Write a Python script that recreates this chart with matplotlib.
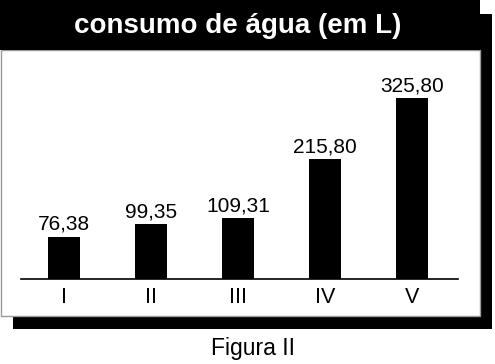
import matplotlib
matplotlib.use("Agg")
import matplotlib.pyplot as plt
from matplotlib.patches import Rectangle

categories = ["I", "II", "III", "IV", "V"]
values = [76.38, 99.35, 109.31, 215.80, 325.80]
value_labels = ["76,38", "99,35", "109,31", "215,80", "325,80"]
title = "consumo de água (em L)"
caption = "Figura II"

plt.rcParams['font.family'] = ['Liberation Sans', 'DejaVu Sans']

W, H = 495, 364
fig = plt.figure(figsize=(W / 100, H / 100), dpi=100)
fig.patch.set_facecolor("white")

def px_rect(x0, y0, x1, y1, **kw):
    # pixel coords measured from top-left
    r = Rectangle((x0 / W, 1 - y1 / H), (x1 - x0) / W, (y1 - y0) / H,
                  transform=fig.transFigure, **kw)
    fig.add_artist(r)
    return r

# shadow
px_rect(13, 14, 492, 329, facecolor="black", edgecolor="none", zorder=0)
# white box
px_rect(0.5, 50, 480, 316, facecolor="white", edgecolor="#999999", linewidth=1.0, zorder=1)
# title bar
px_rect(0, 0, 480, 50, facecolor="black", edgecolor="none", zorder=2)
fig.text(238 / W, 1 - 26 / H, title, color="white", fontsize=20, fontweight="bold",
         ha="center", va="center", zorder=3)

# axes for bars
ax_left, ax_right = 21, 458
ax_top, ax_bottom = 60, 279
ax = fig.add_axes([ax_left / W, 1 - ax_bottom / H, (ax_right - ax_left) / W, (ax_bottom - ax_top) / H])
ax.set_zorder(5)
ax.patch.set_alpha(0)
x = list(range(len(categories)))
bars = ax.bar(x, values, width=0.37, color="black")
ax.set_xlim(-0.494, 4.53)
ax.set_ylim(0, 395)
for xi, v, lab in zip(x, values, value_labels):
    ax.annotate(lab, (xi, v), xytext=(0, 2), textcoords="offset points",
                ha="center", va="bottom", fontsize=15)
ax.set_xticks(x)
ax.set_xticklabels(categories, fontsize=15.5)
ax.tick_params(axis="x", length=0, pad=6)
ax.set_yticks([])
for s in ["top", "left", "right"]:
    ax.spines[s].set_visible(False)
ax.spines["bottom"].set_linewidth(1.2)

fig.text(253 / W, 1 - 348 / H, caption, fontsize=16.5, ha="center", va="center")

fig.savefig("out.png", dpi=100, facecolor="white")
